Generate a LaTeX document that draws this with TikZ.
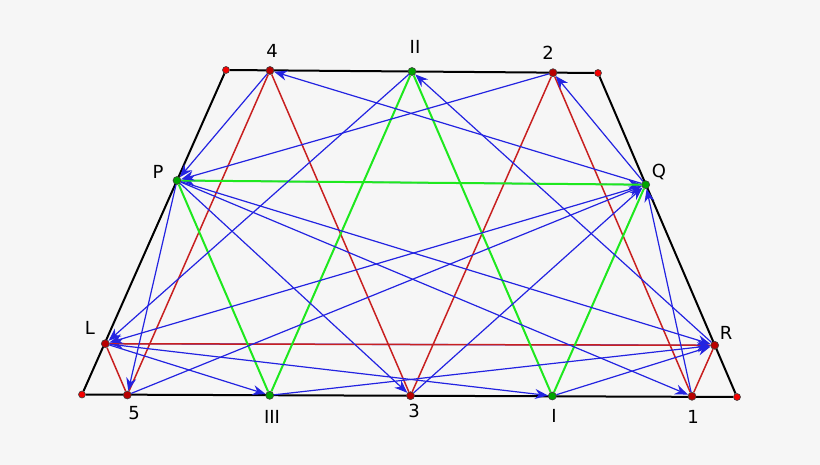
\documentclass[tikz,border=0pt]{standalone}
\usepackage{fontspec}
\setmainfont{DejaVu Sans}
\usepackage{xcolor}
\usepackage{tikz}
\usetikzlibrary{arrows.meta}

\definecolor{bgcol}{RGB}{246,246,246}
\definecolor{redln}{RGB}{200,32,32}
\definecolor{greenln}{RGB}{30,232,30}
\definecolor{blueln}{RGB}{35,35,225}
\definecolor{ptred}{RGB}{185,0,0}
\definecolor{ptcorner}{RGB}{245,0,0}
\definecolor{ptgreen}{RGB}{0,165,0}

\pgfdeclarelayer{back}
\pgfdeclarelayer{lines}
\pgfsetlayers{back,lines,main}

\begin{document}
\begin{tikzpicture}[
        x=1pt, y=-1pt,
        pt/.style={circle, inner sep=0pt, minimum size=8pt, draw=black!75, line width=0.6pt},
        rpt/.style={pt, fill=ptred},
        cpt/.style={pt, fill=ptcorner, minimum size=7pt},
        gpt/.style={pt, fill=ptgreen},
        lbl/.style={font=\fontsize{18}{20}\selectfont},
        side/.style={line width=2pt, black},
        rl/.style={line width=1.5pt, redln},
        gl/.style={line width=2pt, greenln},
        bl/.style={line width=1.2pt, blueln, -{Stealth[length=13pt, width=10pt]}},
        bl2/.style={bl, {Stealth[length=13pt, width=10pt]}-{Stealth[length=13pt, width=10pt]}}
    ]
        \begin{pgfonlayer}{back}
            \fill[bgcol] (0,0) rectangle (820,465);
        \end{pgfonlayer}

        % corners of the trapezoid
        \node[cpt] (tl) at (226,70) {};
        \node[cpt] (tr) at (598,73) {};
        \node[cpt] (bl) at (82,394.5) {};
        \node[cpt] (br) at (737,397) {};

        % red points
        \node[rpt] (p4) at (270,70.5) {};
        \node[rpt] (p2) at (553,72.7) {};
        \node[rpt] (pL) at (105.3,343.7) {};
        \node[rpt] (pR) at (714.7,345.3) {};
        \node[rpt] (p5) at (127.3,395) {};
        \node[rpt] (p3) at (410.5,395.7) {};
        \node[rpt] (p1) at (692,396.3) {};

        % green points
        \node[gpt] (pII) at (412,71.5) {};
        \node[gpt] (pP) at (177,180.5) {};
        \node[gpt] (pQ) at (645.7,184.7) {};
        \node[gpt] (pIII) at (269.7,395.3) {};
        \node[gpt] (pI) at (552.3,396) {};

        % labels
        \node[lbl] (t4) at (272,51) {4};
        \node[lbl] (tII) at (415,47) {II};
        \node[lbl] (t2) at (548,53) {2};
        \node[lbl] (tP) at (158,172) {P};
        \node[lbl] (tQ) at (659,172) {Q};
        \node[lbl] (tL) at (90,328) {L};
        \node[lbl] (tR) at (726,333) {R};
        \node[lbl] (t5) at (134,413) {5};
        \node[lbl] (tIII) at (272,417) {III};
        \node[lbl] (t3) at (414,411) {3};
        \node[lbl] (tI) at (554,416) {I};
        \node[lbl] (t1) at (693,417) {1};

        \begin{pgfonlayer}{lines}
            \draw[side] (tl) -- (tr) -- (br) -- (bl) -- (tl);

            \path[bl2]
            (pP) edge (pQ)
            (pL) edge (pR);

            \draw[rl] (pL) -- (p5) -- (p4) -- (p3) -- (p2) -- (p1) -- (pR) -- (pL);
            \draw[gl] (pP) -- (pIII) -- (pII) -- (pI) -- (pQ) -- (pP);

            \path[bl]
            (pQ) edge (p4)
            (pQ) edge (p2)
            (pQ) edge (pL)
            (p4) edge (pP)
            (p2) edge (pP)
            (pP) edge (p5)
            (pP) edge (p3)
            (pP) edge (p1)
            (pP) edge (pR)
            (p5) edge (pQ)
            (p3) edge (pQ)
            (p1) edge (pQ)
            (pL) edge (pIII)
            (pL) edge (pI)
            (pII) edge (pL)
            (pR) edge (pII)
            (pIII) edge (pR)
            (pI) edge (pR);
        \end{pgfonlayer}
    \end{tikzpicture}
\end{document}
